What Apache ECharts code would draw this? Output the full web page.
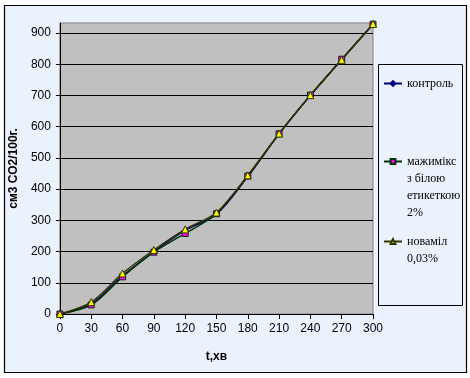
<!DOCTYPE html>
<html>
<head>
<meta charset="utf-8">
<script src="https://cdn.jsdelivr.net/npm/echarts@6/dist/echarts.min.js"></script>
<style>
  html, body { margin: 0; padding: 0; background: #fff; }
  #chart { width: 470px; height: 378px; }
</style>
</head>
<body>
<div id="chart"></div>
<script>
// час, хв
const times = [0, 30, 60, 90, 120, 150, 180, 210, 240, 270, 300]
// см3 СО2/100г.
const kontrol = [0, 32, 122, 200, 268, 319, 440, 577, 700, 815, 928]
const mazhymiks = [0, 29, 119, 198, 258, 321, 442, 577, 701, 816, 928]
const novamil = [0, 38, 130, 205, 271, 325, 444, 578, 701, 814, 929]

const names = ['контроль', 'мажимікс з білою етикеткою 2%', 'новаміл 0,03%']
// підписи легенди по рядках (порожні рядки зверху, щоб значок стояв біля першого рядка)
const legendLabels = {
  'контроль': 'контроль',
  'мажимікс з білою етикеткою 2%': '\n\n\nмажимікс\nз білою\nетикеткою\n2%',
  'новаміл 0,03%': '\nноваміл\n0,03%'
}

function pairs(vals) {
  return times.map((t, i) => [t, vals[i]])
}

const chart = echarts.init(document.getElementById('chart'))

const lineSeries = (name, vals, color, symbol, size, fill) => ({
  name: name,
  type: 'line',
  smooth: 0.3,
  data: pairs(vals),
  symbol: symbol,
  symbolSize: size,
  showAllSymbol: true,
  lineStyle: { color: color, width: 1.5 },
  itemStyle: { color: fill, borderColor: color, borderWidth: 1 },
  emphasis: { disabled: true },
  animation: false
})

const legendBase = {
  orient: 'vertical',
  left: 383,
  padding: 0,
  itemWidth: 18,
  itemHeight: 6,
  itemGap: 5,
  selectedMode: false,
  formatter: name => legendLabels[name],
  textStyle: { fontFamily: 'Liberation Serif', fontSize: 12, color: '#000', lineHeight: 17 }
}

chart.setOption({
  backgroundColor: '#fff',
  graphic: [{
    type: 'rect',
    shape: { x: 4.5, y: 5.5, width: 462, height: 367 },
    style: { fill: '#eaf2fd', stroke: '#000', lineWidth: 1.2 },
    z: -10
  }, {
    type: 'rect',
    shape: { x: 378.5, y: 64.5, width: 84, height: 241 },
    style: { fill: '#eaf2fd', stroke: '#000', lineWidth: 1 },
    z: -5
  }],
  grid: {
    left: 59,
    right: 97,
    top: 23,
    bottom: 64,
    show: true,
    backgroundColor: '#c0c0c0',
    borderColor: '#808080',
    borderWidth: 1
  },
  legend: [
    Object.assign({}, legendBase, { top: 75, data: [names[0]] }),
    Object.assign({}, legendBase, { top: 102, data: [names[1]] }),
    Object.assign({}, legendBase, { top: 216, data: [names[2]] })
  ],
  xAxis: {
    type: 'value',
    min: 0,
    max: 300,
    interval: 30,
    name: 't,хв',
    nameLocation: 'middle',
    nameGap: 37,
    nameTextStyle: { fontFamily: 'Liberation Sans', fontSize: 12, fontWeight: 'bold', color: '#000' },
    axisLine: { lineStyle: { color: '#000', width: 1 } },
    axisTick: { show: true, length: 5, lineStyle: { color: '#000' } },
    axisLabel: { fontFamily: 'Liberation Sans', fontSize: 12, color: '#000', margin: 9 },
    splitLine: { show: false }
  },
  yAxis: {
    type: 'value',
    min: 0,
    max: 932,
    interval: 100,
    name: 'см3 СО2/100г.',
    nameLocation: 'middle',
    nameGap: 27,
    nameTextStyle: { fontFamily: 'Liberation Sans', fontSize: 12, fontWeight: 'bold', color: '#000' },
    axisLine: { show: true, lineStyle: { color: '#000', width: 1 } },
    axisTick: { show: true, length: 4, lineStyle: { color: '#000' } },
    axisLabel: { fontFamily: 'Liberation Sans', fontSize: 12, color: '#000', margin: 9, showMaxLabel: false },
    splitLine: { show: true, showMaxLine: false, lineStyle: { color: '#000', width: 1 } }
  },
  series: [
    lineSeries(names[0], kontrol, '#000080', 'diamond', 5, '#000080'),
    lineSeries(names[1], mazhymiks, '#003300', 'rect', 6, '#ff00ff'),
    lineSeries(names[2], novamil, '#333300', 'triangle', 7, '#ffff00')
  ]
})
</script>
</body>
</html>
